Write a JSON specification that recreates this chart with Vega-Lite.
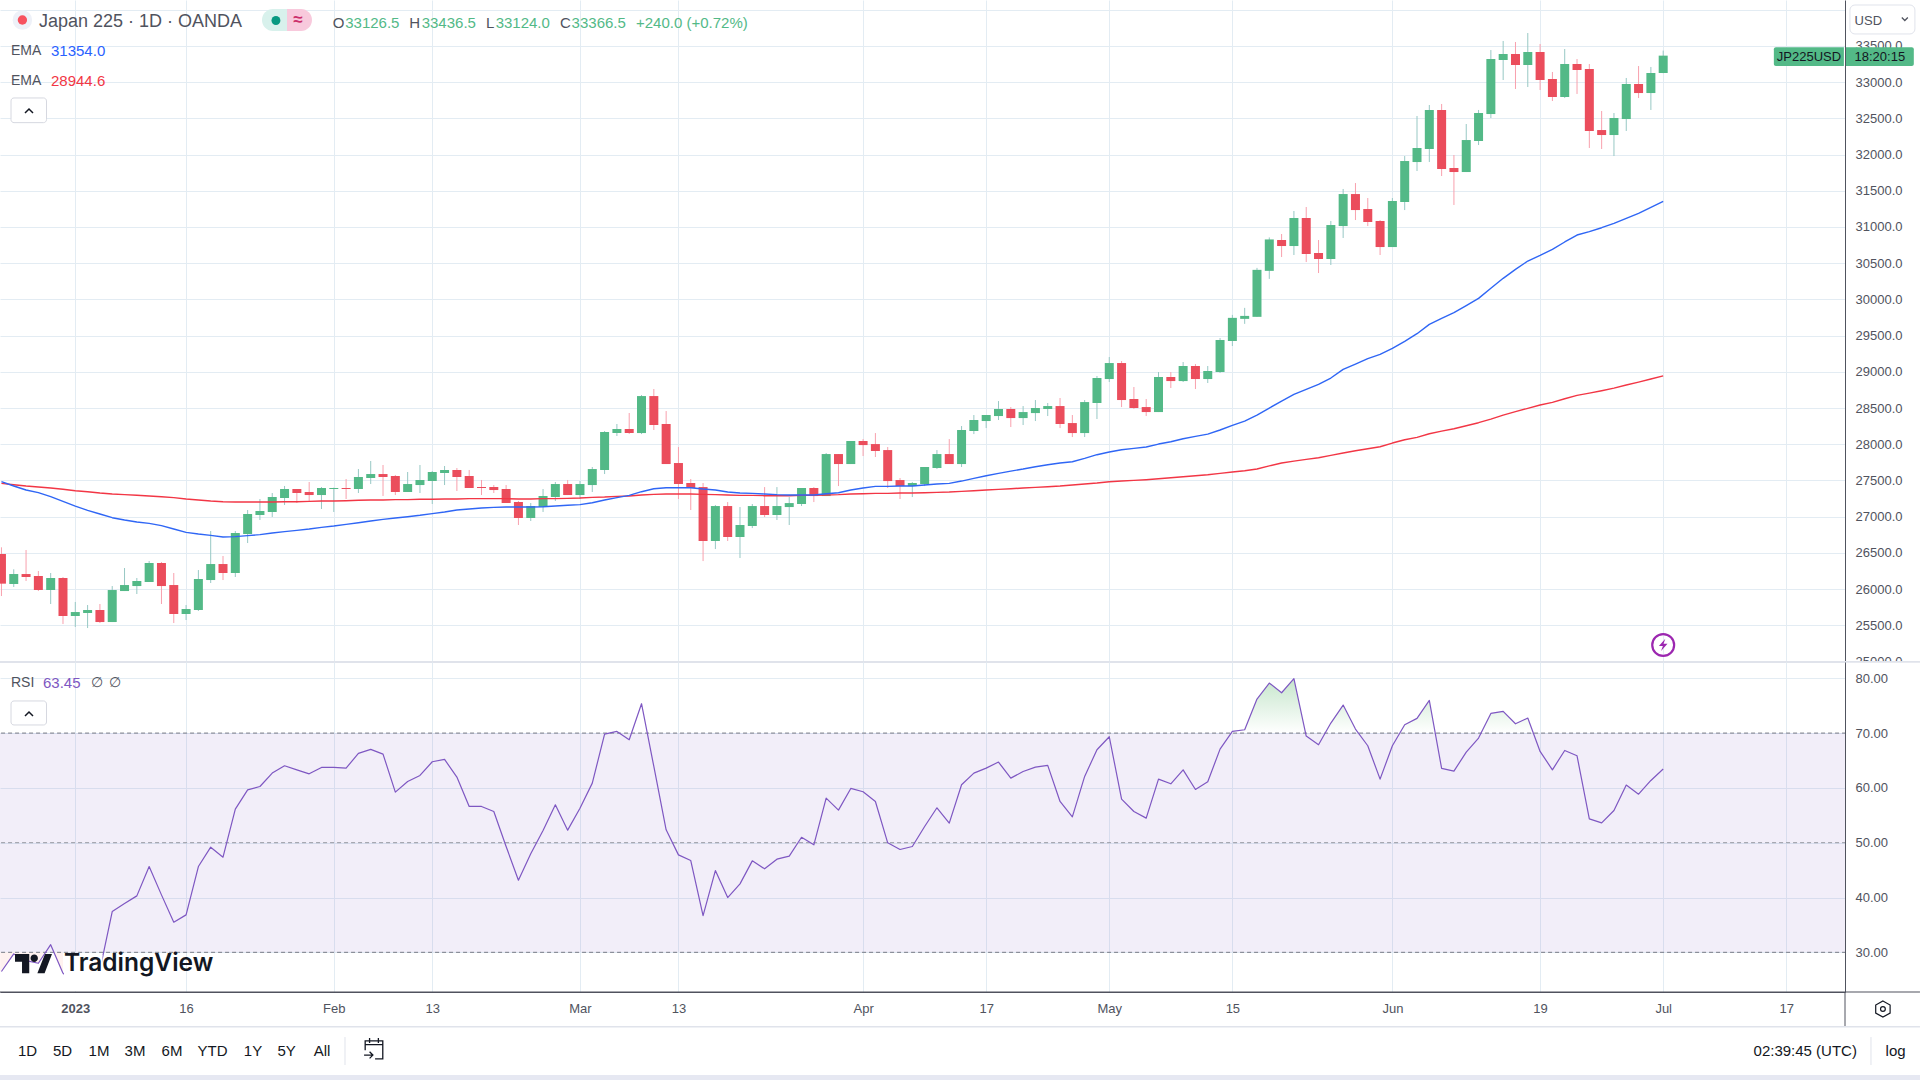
{"$schema":"https://vega.github.io/schema/vega-lite/v6.json","background":"#ffffff","padding":0,"autosize":{"type":"pad"},"spacing":0,"bounds":"flush","config":{"font":"Liberation Sans","view":{"stroke":null},"axis":{"gridColor":"#e3ecf3","gridWidth":1,"domainColor":"#50535e","domainWidth":1,"tickSize":0,"ticks":false,"labelColor":"#50535e","labelFontSize":13,"labelOverlap":false,"labelBound":false,"labelFlush":false}},"datasets":{"one":[{}],"bars":[
{"i":-6,"o":26484,"h":26576,"l":25903,"c":26074,"e1":27482,"e2":27459,"rsi":26.5},
{"i":-5,"o":26069,"h":26272,"l":26028,"c":26207,"e1":27423,"e2":27441,"rsi":29.7},
{"i":-4,"o":26207,"h":26539,"l":26111,"c":26166,"e1":27367,"e2":27423,"rsi":28.5},
{"i":-3,"o":26180,"h":26249,"l":25972,"c":25986,"e1":27331,"e2":27409,"rsi":28.0},
{"i":-2,"o":25986,"h":26221,"l":25793,"c":26152,"e1":27275,"e2":27395,"rsi":31.4},
{"i":-1,"o":26152,"h":26166,"l":25517,"c":25627,"e1":27211,"e2":27377,"rsi":26.2},
{"i":0,"o":25627,"h":25821,"l":25475,"c":25682,"e1":27146,"e2":27358,"rsi":24.0},
{"i":1,"o":25669,"h":25779,"l":25461,"c":25710,"e1":27087,"e2":27344,"rsi":23.8},
{"i":2,"o":25710,"h":25793,"l":25530,"c":25544,"e1":27036,"e2":27326,"rsi":26.8},
{"i":3,"o":25544,"h":26041,"l":25544,"c":25986,"e1":26985,"e2":27312,"rsi":37.44},
{"i":4,"o":25972,"h":26290,"l":25972,"c":26055,"e1":26953,"e2":27303,"rsi":38.9},
{"i":5,"o":26041,"h":26152,"l":25931,"c":26111,"e1":26925,"e2":27294,"rsi":40.3},
{"i":6,"o":26097,"h":26387,"l":26097,"c":26359,"e1":26907,"e2":27285,"rsi":45.65},
{"i":7,"o":26359,"h":26373,"l":25793,"c":26041,"e1":26875,"e2":27275,"rsi":40.48},
{"i":8,"o":26055,"h":26221,"l":25530,"c":25655,"e1":26829,"e2":27262,"rsi":35.49},
{"i":9,"o":25655,"h":25779,"l":25572,"c":25724,"e1":26783,"e2":27243,"rsi":36.83},
{"i":10,"o":25710,"h":26262,"l":25696,"c":26138,"e1":26760,"e2":27229,"rsi":45.65},
{"i":11,"o":26124,"h":26801,"l":26083,"c":26345,"e1":26741,"e2":27215,"rsi":49.18},
{"i":12,"o":26345,"h":26456,"l":26124,"c":26221,"e1":26718,"e2":27206,"rsi":47.36},
{"i":13,"o":26221,"h":26801,"l":26166,"c":26774,"e1":26723,"e2":27202,"rsi":56.12},
{"i":14,"o":26760,"h":27091,"l":26635,"c":27036,"e1":26737,"e2":27202,"rsi":59.65},
{"i":15,"o":27022,"h":27243,"l":26953,"c":27077,"e1":26751,"e2":27202,"rsi":60.26},
{"i":16,"o":27064,"h":27326,"l":26995,"c":27271,"e1":26774,"e2":27202,"rsi":62.7},
{"i":17,"o":27257,"h":27423,"l":27160,"c":27381,"e1":26792,"e2":27206,"rsi":64.04},
{"i":18,"o":27381,"h":27381,"l":27188,"c":27326,"e1":26810,"e2":27206,"rsi":63.3},
{"i":19,"o":27340,"h":27478,"l":27216,"c":27298,"e1":26829,"e2":27211,"rsi":62.57},
{"i":20,"o":27298,"h":27409,"l":27105,"c":27395,"e1":26852,"e2":27215,"rsi":63.73},
{"i":21,"o":27381,"h":27400,"l":27064,"c":27395,"e1":26870,"e2":27215,"rsi":63.73},
{"i":22,"o":27395,"h":27519,"l":27243,"c":27381,"e1":26893,"e2":27220,"rsi":63.61},
{"i":23,"o":27381,"h":27657,"l":27326,"c":27547,"e1":26916,"e2":27225,"rsi":66.29},
{"i":24,"o":27533,"h":27768,"l":27450,"c":27588,"e1":26939,"e2":27229,"rsi":67.02},
{"i":25,"o":27588,"h":27713,"l":27285,"c":27547,"e1":26962,"e2":27229,"rsi":66.17},
{"i":26,"o":27561,"h":27575,"l":27298,"c":27340,"e1":26981,"e2":27234,"rsi":59.23},
{"i":27,"o":27340,"h":27616,"l":27340,"c":27450,"e1":26999,"e2":27234,"rsi":61.17},
{"i":28,"o":27436,"h":27713,"l":27326,"c":27506,"e1":27018,"e2":27239,"rsi":62.27},
{"i":29,"o":27492,"h":27630,"l":27174,"c":27616,"e1":27041,"e2":27239,"rsi":64.77},
{"i":30,"o":27602,"h":27699,"l":27436,"c":27644,"e1":27064,"e2":27243,"rsi":65.19},
{"i":31,"o":27644,"h":27671,"l":27354,"c":27547,"e1":27091,"e2":27243,"rsi":61.97},
{"i":32,"o":27561,"h":27644,"l":27395,"c":27395,"e1":27105,"e2":27248,"rsi":56.61},
{"i":33,"o":27409,"h":27506,"l":27298,"c":27395,"e1":27119,"e2":27248,"rsi":56.61},
{"i":34,"o":27409,"h":27436,"l":27326,"c":27367,"e1":27128,"e2":27248,"rsi":55.7},
{"i":35,"o":27381,"h":27436,"l":27188,"c":27188,"e1":27133,"e2":27248,"rsi":49.31},
{"i":36,"o":27202,"h":27216,"l":26884,"c":26981,"e1":27133,"e2":27243,"rsi":43.16},
{"i":37,"o":26981,"h":27188,"l":26939,"c":27146,"e1":27133,"e2":27243,"rsi":47.97},
{"i":38,"o":27133,"h":27381,"l":27064,"c":27285,"e1":27137,"e2":27248,"rsi":52.23},
{"i":39,"o":27271,"h":27478,"l":27216,"c":27450,"e1":27146,"e2":27248,"rsi":56.91},
{"i":40,"o":27450,"h":27506,"l":27298,"c":27298,"e1":27156,"e2":27252,"rsi":52.29},
{"i":41,"o":27298,"h":27492,"l":27243,"c":27450,"e1":27165,"e2":27257,"rsi":56.3},
{"i":42,"o":27436,"h":27685,"l":27340,"c":27657,"e1":27192,"e2":27266,"rsi":60.87},
{"i":43,"o":27644,"h":28182,"l":27588,"c":28169,"e1":27229,"e2":27271,"rsi":69.82},
{"i":44,"o":28155,"h":28279,"l":28113,"c":28210,"e1":27262,"e2":27280,"rsi":70.3},
{"i":45,"o":28210,"h":28431,"l":28141,"c":28155,"e1":27294,"e2":27285,"rsi":68.78},
{"i":46,"o":28154,"h":28679,"l":28140,"c":28665,"e1":27344,"e2":27298,"rsi":75.36},
{"i":47,"o":28665,"h":28762,"l":28196,"c":28265,"e1":27385,"e2":27307,"rsi":63.91},
{"i":48,"o":28279,"h":28458,"l":27726,"c":27726,"e1":27399,"e2":27312,"rsi":52.35},
{"i":49,"o":27740,"h":27961,"l":27243,"c":27450,"e1":27399,"e2":27312,"rsi":47.78},
{"i":50,"o":27464,"h":27519,"l":27091,"c":27395,"e1":27399,"e2":27312,"rsi":46.75},
{"i":51,"o":27408,"h":27464,"l":26386,"c":26663,"e1":27381,"e2":27307,"rsi":36.71},
{"i":52,"o":26663,"h":27160,"l":26552,"c":27146,"e1":27367,"e2":27303,"rsi":44.92},
{"i":53,"o":27146,"h":27201,"l":26663,"c":26718,"e1":27339,"e2":27298,"rsi":39.99},
{"i":54,"o":26718,"h":27132,"l":26428,"c":26884,"e1":27326,"e2":27293,"rsi":42.49},
{"i":55,"o":26870,"h":27174,"l":26842,"c":27146,"e1":27321,"e2":27293,"rsi":46.69},
{"i":56,"o":27146,"h":27408,"l":26994,"c":27022,"e1":27312,"e2":27289,"rsi":45.23},
{"i":57,"o":27022,"h":27408,"l":26953,"c":27146,"e1":27303,"e2":27289,"rsi":46.99},
{"i":58,"o":27132,"h":27270,"l":26884,"c":27187,"e1":27298,"e2":27289,"rsi":47.54},
{"i":59,"o":27174,"h":27395,"l":27146,"c":27395,"e1":27298,"e2":27293,"rsi":50.99},
{"i":60,"o":27395,"h":27408,"l":27201,"c":27284,"e1":27298,"e2":27293,"rsi":49.61},
{"i":61,"o":27284,"h":27878,"l":27284,"c":27864,"e1":27316,"e2":27298,"rsi":58.13},
{"i":62,"o":27864,"h":27864,"l":27422,"c":27726,"e1":27330,"e2":27303,"rsi":55.94},
{"i":63,"o":27726,"h":28044,"l":27726,"c":28044,"e1":27367,"e2":27312,"rsi":59.9},
{"i":64,"o":28044,"h":28071,"l":27837,"c":27988,"e1":27395,"e2":27316,"rsi":59.29},
{"i":65,"o":28002,"h":28154,"l":27823,"c":27906,"e1":27418,"e2":27321,"rsi":57.52},
{"i":66,"o":27919,"h":27961,"l":27395,"c":27491,"e1":27418,"e2":27321,"rsi":49.98},
{"i":67,"o":27505,"h":27533,"l":27243,"c":27422,"e1":27422,"e2":27326,"rsi":48.76},
{"i":68,"o":27422,"h":27477,"l":27270,"c":27464,"e1":27422,"e2":27326,"rsi":49.31},
{"i":69,"o":27450,"h":27685,"l":27422,"c":27685,"e1":27436,"e2":27330,"rsi":52.96},
{"i":70,"o":27671,"h":27919,"l":27657,"c":27864,"e1":27450,"e2":27335,"rsi":56.37},
{"i":71,"o":27864,"h":28071,"l":27726,"c":27726,"e1":27459,"e2":27339,"rsi":53.57},
{"i":72,"o":27726,"h":28251,"l":27685,"c":28196,"e1":27491,"e2":27349,"rsi":60.57},
{"i":73,"o":28182,"h":28403,"l":28140,"c":28334,"e1":27528,"e2":27358,"rsi":62.7},
{"i":74,"o":28320,"h":28403,"l":28223,"c":28403,"e1":27565,"e2":27367,"rsi":63.61},
{"i":75,"o":28389,"h":28596,"l":28334,"c":28486,"e1":27597,"e2":27376,"rsi":64.71},
{"i":76,"o":28486,"h":28513,"l":28237,"c":28361,"e1":27629,"e2":27385,"rsi":61.78},
{"i":77,"o":28361,"h":28527,"l":28265,"c":28444,"e1":27657,"e2":27395,"rsi":63.0},
{"i":78,"o":28430,"h":28610,"l":28320,"c":28500,"e1":27689,"e2":27404,"rsi":63.79},
{"i":79,"o":28486,"h":28569,"l":28389,"c":28527,"e1":27717,"e2":27413,"rsi":64.1},
{"i":80,"o":28527,"h":28638,"l":28223,"c":28279,"e1":27740,"e2":27422,"rsi":57.52},
{"i":81,"o":28292,"h":28403,"l":28099,"c":28154,"e1":27758,"e2":27436,"rsi":54.72},
{"i":82,"o":28154,"h":28610,"l":28099,"c":28582,"e1":27804,"e2":27450,"rsi":62.09},
{"i":83,"o":28569,"h":28942,"l":28348,"c":28914,"e1":27855,"e2":27464,"rsi":66.96},
{"i":84,"o":28900,"h":29204,"l":28859,"c":29121,"e1":27892,"e2":27482,"rsi":69.33},
{"i":85,"o":29121,"h":29149,"l":28513,"c":28610,"e1":27924,"e2":27491,"rsi":57.95},
{"i":86,"o":28624,"h":28790,"l":28486,"c":28500,"e1":27942,"e2":27500,"rsi":55.7},
{"i":87,"o":28513,"h":28624,"l":28389,"c":28444,"e1":27961,"e2":27510,"rsi":54.48},
{"i":88,"o":28444,"h":28997,"l":28444,"c":28928,"e1":28002,"e2":27523,"rsi":61.6},
{"i":89,"o":28928,"h":28997,"l":28776,"c":28872,"e1":28034,"e2":27537,"rsi":60.75},
{"i":90,"o":28872,"h":29135,"l":28859,"c":29080,"e1":28076,"e2":27551,"rsi":63.3},
{"i":91,"o":29080,"h":29107,"l":28762,"c":28900,"e1":28108,"e2":27565,"rsi":59.71},
{"i":92,"o":28900,"h":29080,"l":28845,"c":29011,"e1":28140,"e2":27579,"rsi":61.11},
{"i":93,"o":28997,"h":29466,"l":28983,"c":29439,"e1":28196,"e2":27597,"rsi":67.08},
{"i":94,"o":29425,"h":29786,"l":29356,"c":29745,"e1":28260,"e2":27616,"rsi":70.3},
{"i":95,"o":29731,"h":29883,"l":29662,"c":29772,"e1":28320,"e2":27634,"rsi":70.61},
{"i":96,"o":29759,"h":30435,"l":29759,"c":30408,"e1":28403,"e2":27657,"rsi":76.21},
{"i":97,"o":30394,"h":30856,"l":30283,"c":30828,"e1":28499,"e2":27700,"rsi":79.13},
{"i":98,"o":30820,"h":30903,"l":30585,"c":30737,"e1":28596,"e2":27740,"rsi":77.36},
{"i":99,"o":30737,"h":31221,"l":30613,"c":31124,"e1":28688,"e2":27767,"rsi":79.92},
{"i":100,"o":31124,"h":31276,"l":30516,"c":30627,"e1":28757,"e2":27790,"rsi":69.45},
{"i":101,"o":30641,"h":30820,"l":30364,"c":30558,"e1":28826,"e2":27813,"rsi":67.87},
{"i":102,"o":30558,"h":31083,"l":30475,"c":31027,"e1":28914,"e2":27845,"rsi":71.83},
{"i":103,"o":31013,"h":31525,"l":30848,"c":31455,"e1":29033,"e2":27878,"rsi":75.11},
{"i":104,"o":31455,"h":31607,"l":31096,"c":31234,"e1":29107,"e2":27910,"rsi":70.73},
{"i":105,"o":31248,"h":31400,"l":31013,"c":31069,"e1":29181,"e2":27937,"rsi":67.69},
{"i":106,"o":31083,"h":31096,"l":30613,"c":30723,"e1":29240,"e2":27965,"rsi":61.6},
{"i":107,"o":30723,"h":31400,"l":30723,"c":31359,"e1":29323,"e2":28016,"rsi":67.69},
{"i":108,"o":31345,"h":31980,"l":31234,"c":31911,"e1":29420,"e2":28062,"rsi":71.52},
{"i":109,"o":31897,"h":32533,"l":31773,"c":32091,"e1":29526,"e2":28094,"rsi":72.68},
{"i":110,"o":32077,"h":32685,"l":31897,"c":32616,"e1":29655,"e2":28145,"rsi":75.96},
{"i":111,"o":32616,"h":32699,"l":31704,"c":31801,"e1":29738,"e2":28181,"rsi":63.55},
{"i":112,"o":31815,"h":31994,"l":31304,"c":31759,"e1":29816,"e2":28214,"rsi":63.06},
{"i":113,"o":31759,"h":32422,"l":31759,"c":32201,"e1":29913,"e2":28255,"rsi":66.53},
{"i":114,"o":32188,"h":32616,"l":32132,"c":32574,"e1":30014,"e2":28297,"rsi":69.09},
{"i":115,"o":32560,"h":33444,"l":32505,"c":33320,"e1":30155,"e2":28347,"rsi":73.59},
{"i":116,"o":33306,"h":33569,"l":33030,"c":33389,"e1":30291,"e2":28402,"rsi":73.96},
{"i":117,"o":33389,"h":33555,"l":32906,"c":33237,"e1":30415,"e2":28449,"rsi":71.7},
{"i":118,"o":33237,"h":33679,"l":32933,"c":33417,"e1":30530,"e2":28495,"rsi":72.74},
{"i":119,"o":33417,"h":33527,"l":32892,"c":33030,"e1":30608,"e2":28541,"rsi":66.65},
{"i":120,"o":33044,"h":33141,"l":32740,"c":32795,"e1":30691,"e2":28577,"rsi":63.3},
{"i":121,"o":32795,"h":33458,"l":32781,"c":33251,"e1":30793,"e2":28628,"rsi":66.83},
{"i":122,"o":33251,"h":33320,"l":32837,"c":33168,"e1":30889,"e2":28674,"rsi":65.86},
{"i":123,"o":33182,"h":33251,"l":32091,"c":32326,"e1":30935,"e2":28706,"rsi":54.36},
{"i":124,"o":32339,"h":32602,"l":32077,"c":32270,"e1":30990,"e2":28739,"rsi":53.63},
{"i":125,"o":32270,"h":32574,"l":31980,"c":32505,"e1":31050,"e2":28775,"rsi":55.88},
{"i":126,"o":32491,"h":33058,"l":32326,"c":32975,"e1":31119,"e2":28817,"rsi":60.51},
{"i":127,"o":32975,"h":33223,"l":32781,"c":32850,"e1":31188,"e2":28858,"rsi":58.86},
{"i":128,"o":32850,"h":33210,"l":32616,"c":33127,"e1":31271,"e2":28900,"rsi":61.36},
{"i":129,"o":33126.5,"h":33436.5,"l":33124,"c":33366.5,"e1":31354,"e2":28944.6,"rsi":63.45}
],"over":[{"i":93.9,"v":70},{"i":94,"v":70.3},{"i":95,"v":70.61},{"i":96,"v":76.21},{"i":97,"v":79.13},{"i":98,"v":77.36},{"i":99,"v":79.92},{"i":99.95,"v":70},{"i":101.54,"v":70},{"i":102,"v":71.83},{"i":103,"v":75.11},{"i":104,"v":70.73},{"i":104.23,"v":70},{"i":107.6,"v":70},{"i":108,"v":71.52},{"i":109,"v":72.68},{"i":110,"v":75.96},{"i":110.48,"v":70},{"i":114.2,"v":70},{"i":115,"v":73.59},{"i":116,"v":73.96},{"i":117,"v":71.7},{"i":118,"v":72.74},{"i":118.45,"v":70}],"under":[{"i":-6.1,"v":26.4},{"i":-5,"v":29.7},{"i":-4,"v":28.5},{"i":-3,"v":28},{"i":-2.5,"v":30},{"i":-1.7,"v":30},{"i":-1,"v":26.2}]},"vconcat":[
{"width":1845,"height":662,"layer":[
{"data":{"name":"bars"},"mark":{"type":"rule","strokeWidth":1},"encoding":{"x":{"field":"i","type":"quantitative","scale":{"domain":[-6.117,143.77],"nice":false,"zero":false,"padding":0},"axis":{"title":null,"orient":"bottom","values":[0,9,21,29,41,49,64,74,84,94,107,119,129,139],"labels":false,"domain":false,"grid":true}},"y":{"field":"l","type":"quantitative","scale":{"domain":[24992,34135],"nice":false,"zero":false},"axis":{"title":null,"orient":"right","tickCount":30,"values":[25000,25500,26000,26500,27000,27500,28000,28500,29000,29500,30000,30500,31000,31500,32000,32500,33000,33500,34000],"labelExpr":"datum.value===34000?'':format(datum.value,'.1f')","labelPadding":10,"grid":true,"domain":true}},"y2":{"field":"h"},"color":{"condition":{"test":"datum.c>=datum.o","value":"#97c8c4"},"value":"#f8a0ad"}}},
{"data":{"name":"bars"},"transform":[{"filter":"datum.i>-6"}],"mark":{"type":"bar","width":9,"orient":"vertical"},"encoding":{"x":{"field":"i","type":"quantitative"},"y":{"field":"o","type":"quantitative"},"y2":{"field":"c"},"color":{"condition":{"test":"datum.c>=datum.o","value":"#53b987"},"value":"#eb4d5c"}}},
{"data":{"name":"bars"},"transform":[{"filter":"datum.i===-6"}],"mark":{"type":"rect","fill":"#eb4d5c"},"encoding":{"x":{"datum":-6.117,"type":"quantitative"},"x2":{"datum":-5.634},"y":{"field":"o","type":"quantitative"},"y2":{"field":"c"}}},
{"data":{"name":"bars"},"mark":{"type":"line","color":"#f23645","strokeWidth":1.4,"strokeJoin":"round"},"encoding":{"x":{"field":"i","type":"quantitative"},"y":{"field":"e2","type":"quantitative"}}},
{"data":{"name":"bars"},"mark":{"type":"line","color":"#2f66f5","strokeWidth":1.4,"strokeJoin":"round"},"encoding":{"x":{"field":"i","type":"quantitative"},"y":{"field":"e1","type":"quantitative"}}},
{"data":{"name":"one"},"mark":{"type":"rect","fill":"#e0e3eb"},"encoding":{"x":{"datum":-6.117,"type":"quantitative"},"x2":{"datum":149.86},"y":{"datum":25006,"type":"quantitative"},"y2":{"datum":24978}}},
{"data":{"name":"one"},"mark":{"type":"point","shape":"circle","filled":true,"fill":"#eef1f8","opacity":1,"size":380},"encoding":{"x":{"datum":-4.297,"type":"quantitative"},"y":{"datum":33859,"type":"quantitative"}}},
{"data":{"name":"one"},"mark":{"type":"point","shape":"circle","filled":true,"fill":"#f7525f","opacity":1,"size":88},"encoding":{"x":{"datum":-4.297,"type":"quantitative"},"y":{"datum":33859,"type":"quantitative"}}},
{"data":{"name":"one"},"mark":{"type":"text","align":"left","baseline":"middle","fontSize":18,"color":"#50535e"},"encoding":{"x":{"datum":-2.949,"type":"quantitative"},"y":{"datum":33836,"type":"quantitative"},"text":{"value":"Japan 225 · 1D · OANDA"}}},
{"data":{"name":"one"},"mark":{"type":"rect","fill":"#d8f1ec","cornerRadiusTopLeft":11,"cornerRadiusBottomLeft":11},"encoding":{"x":{"datum":15.165,"type":"quantitative"},"x2":{"datum":17.2},"y":{"datum":34011,"type":"quantitative"},"y2":{"datum":33707}}},
{"data":{"name":"one"},"mark":{"type":"rect","fill":"#f8c9dc","cornerRadiusTopRight":11,"cornerRadiusBottomRight":11},"encoding":{"x":{"datum":17.2,"type":"quantitative"},"x2":{"datum":19.23},"y":{"datum":34011,"type":"quantitative"},"y2":{"datum":33707}}},
{"data":{"name":"one"},"mark":{"type":"point","shape":"circle","filled":true,"fill":"#089981","opacity":1,"size":79},"encoding":{"x":{"datum":16.3,"type":"quantitative"},"y":{"datum":33852,"type":"quantitative"}}},
{"data":{"name":"one"},"mark":{"type":"text","align":"center","baseline":"middle","fontSize":17,"fontWeight":"bold","color":"#cc2f6b"},"encoding":{"x":{"datum":18.09,"type":"quantitative"},"y":{"datum":33852,"type":"quantitative"},"text":{"value":"≈"}}},
{"data":{"name":"one"},"mark":{"type":"text","align":"left","baseline":"middle","fontSize":15,"color":"#50535e"},"encoding":{"x":{"datum":20.91,"type":"quantitative"},"y":{"datum":33822,"type":"quantitative"},"text":{"value":"O"}}},
{"data":{"name":"one"},"mark":{"type":"text","align":"left","baseline":"middle","fontSize":15,"color":"#53b987"},"encoding":{"x":{"datum":21.93,"type":"quantitative"},"y":{"datum":33822,"type":"quantitative"},"text":{"value":"33126.5"}}},
{"data":{"name":"one"},"mark":{"type":"text","align":"left","baseline":"middle","fontSize":15,"color":"#50535e"},"encoding":{"x":{"datum":27.13,"type":"quantitative"},"y":{"datum":33822,"type":"quantitative"},"text":{"value":"H"}}},
{"data":{"name":"one"},"mark":{"type":"text","align":"left","baseline":"middle","fontSize":15,"color":"#53b987"},"encoding":{"x":{"datum":28.14,"type":"quantitative"},"y":{"datum":33822,"type":"quantitative"},"text":{"value":"33436.5"}}},
{"data":{"name":"one"},"mark":{"type":"text","align":"left","baseline":"middle","fontSize":15,"color":"#50535e"},"encoding":{"x":{"datum":33.36,"type":"quantitative"},"y":{"datum":33822,"type":"quantitative"},"text":{"value":"L"}}},
{"data":{"name":"one"},"mark":{"type":"text","align":"left","baseline":"middle","fontSize":15,"color":"#53b987"},"encoding":{"x":{"datum":34.15,"type":"quantitative"},"y":{"datum":33822,"type":"quantitative"},"text":{"value":"33124.0"}}},
{"data":{"name":"one"},"mark":{"type":"text","align":"left","baseline":"middle","fontSize":15,"color":"#50535e"},"encoding":{"x":{"datum":39.37,"type":"quantitative"},"y":{"datum":33822,"type":"quantitative"},"text":{"value":"C"}}},
{"data":{"name":"one"},"mark":{"type":"text","align":"left","baseline":"middle","fontSize":15,"color":"#53b987"},"encoding":{"x":{"datum":40.32,"type":"quantitative"},"y":{"datum":33822,"type":"quantitative"},"text":{"value":"33366.5"}}},
{"data":{"name":"one"},"mark":{"type":"text","align":"left","baseline":"middle","fontSize":15,"color":"#53b987"},"encoding":{"x":{"datum":45.55,"type":"quantitative"},"y":{"datum":33822,"type":"quantitative"},"text":{"value":"+240.0 (+0.72%)"}}},
{"data":{"name":"one"},"mark":{"type":"text","align":"left","baseline":"middle","fontSize":14,"color":"#50535e"},"encoding":{"x":{"datum":-5.223,"type":"quantitative"},"y":{"datum":33435,"type":"quantitative"},"text":{"value":"EMA"}}},
{"data":{"name":"one"},"mark":{"type":"text","align":"left","baseline":"middle","fontSize":15,"color":"#2962ff"},"encoding":{"x":{"datum":-1.974,"type":"quantitative"},"y":{"datum":33435,"type":"quantitative"},"text":{"value":"31354.0"}}},
{"data":{"name":"one"},"mark":{"type":"text","align":"left","baseline":"middle","fontSize":14,"color":"#50535e"},"encoding":{"x":{"datum":-5.223,"type":"quantitative"},"y":{"datum":33021,"type":"quantitative"},"text":{"value":"EMA"}}},
{"data":{"name":"one"},"mark":{"type":"text","align":"left","baseline":"middle","fontSize":15,"color":"#f23645"},"encoding":{"x":{"datum":-1.974,"type":"quantitative"},"y":{"datum":33021,"type":"quantitative"},"text":{"value":"28944.6"}}},
{"data":{"name":"one"},"mark":{"type":"rect","fill":"#ffffff","stroke":"#d6d8e0","strokeWidth":1,"cornerRadius":3},"encoding":{"x":{"datum":-5.223,"type":"quantitative"},"x2":{"datum":-2.34},"y":{"datum":32782,"type":"quantitative"},"y2":{"datum":32441}}},
{"data":{"name":"one"},"mark":{"type":"point","shape":"M-1 .5L0 -.5L1 .5","filled":false,"stroke":"#131722","strokeWidth":1.5,"opacity":1,"size":64},"encoding":{"x":{"datum":-3.761,"type":"quantitative"},"y":{"datum":32602,"type":"quantitative"}}},
{"data":{"name":"one"},"mark":{"type":"rect","fill":"#ffffff","stroke":"#e0e3eb","strokeWidth":1,"cornerRadius":5},"encoding":{"x":{"datum":144.17,"type":"quantitative"},"x2":{"datum":149.45},"y":{"datum":34066,"type":"quantitative"},"y2":{"datum":33666}}},
{"data":{"name":"one"},"mark":{"type":"text","align":"left","baseline":"middle","fontSize":13,"color":"#50535e"},"encoding":{"x":{"datum":144.55,"type":"quantitative"},"y":{"datum":33845,"type":"quantitative"},"text":{"value":"USD"}}},
{"data":{"name":"one"},"mark":{"type":"point","shape":"M-1 -.5L0 .5L1 -.5","filled":false,"stroke":"#50535e","strokeWidth":1.3,"opacity":1,"size":36},"encoding":{"x":{"datum":148.63,"type":"quantitative"},"y":{"datum":33873,"type":"quantitative"}}},
{"data":{"name":"one"},"mark":{"type":"rect","fill":"#53b987","cornerRadiusTopLeft":2,"cornerRadiusBottomLeft":2},"encoding":{"x":{"datum":137.99,"type":"quantitative"},"x2":{"datum":143.68},"y":{"datum":33482,"type":"quantitative"},"y2":{"datum":33224}}},
{"data":{"name":"one"},"mark":{"type":"rect","fill":"#53b987","cornerRadiusTopRight":2,"cornerRadiusBottomRight":2},"encoding":{"x":{"datum":143.85,"type":"quantitative"},"x2":{"datum":149.36},"y":{"datum":33482,"type":"quantitative"},"y2":{"datum":33224}}},
{"data":{"name":"one"},"mark":{"type":"text","align":"center","baseline":"middle","fontSize":13,"color":"#131722"},"encoding":{"x":{"datum":140.84,"type":"quantitative"},"y":{"datum":33348,"type":"quantitative"},"text":{"value":"JP225USD"}}},
{"data":{"name":"one"},"mark":{"type":"text","align":"center","baseline":"middle","fontSize":13,"color":"#131722"},"encoding":{"x":{"datum":146.6,"type":"quantitative"},"y":{"datum":33348,"type":"quantitative"},"text":{"value":"18:20:15"}}},
{"data":{"name":"one"},"mark":{"type":"point","shape":"circle","filled":false,"stroke":"#9c27b0","strokeWidth":2.2,"opacity":1,"size":480},"encoding":{"x":{"datum":129,"type":"quantitative"},"y":{"datum":25227,"type":"quantitative"}}},
{"data":{"name":"one"},"mark":{"type":"point","shape":"M.35 -1L-.7 .15H-.05L-.35 1L.7 -.2H.05Z","filled":true,"fill":"#9c27b0","opacity":1,"size":150},"encoding":{"x":{"datum":129,"type":"quantitative"},"y":{"datum":25227,"type":"quantitative"}}}
]},
{"width":1845,"height":330,"layer":[
{"data":{"name":"one"},"mark":{"type":"rect","fill":"#7e57c2","opacity":0.1},"encoding":{"x":{"datum":-6.117,"type":"quantitative","scale":{"domain":[-6.117,143.77],"nice":false,"zero":false},"axis":{"title":null,"orient":"bottom","values":[0,9,21,29,41,49,64,74,84,94,107,119,129,139],"grid":true,"domain":true,"labelPadding":10,"labelExpr":"{'0':'2023','9':'16','21':'Feb','29':'13','41':'Mar','49':'13','64':'Apr','74':'17','84':'May','94':'15','107':'Jun','119':'19','129':'Jul','139':'17'}[''+datum.value]","labelFontWeight":{"condition":{"test":"datum.value===0","value":"bold"},"value":"normal"}}},"x2":{"datum":143.77},"y":{"datum":30,"type":"quantitative","scale":{"domain":[22.76,82.97],"nice":false,"zero":false},"axis":{"title":null,"orient":"right","values":[30,40,50,60,70,80],"format":".2f","labelPadding":10,"grid":true,"domain":true}},"y2":{"datum":70}}},
{"data":{"name":"over"},"mark":{"type":"area","fill":{"x1":0,"y1":1,"x2":0,"y2":0,"gradient":"linear","stops":[{"offset":0,"color":"#ffffff"},{"offset":1,"color":"#c6e6cc"}]}},"encoding":{"x":{"field":"i","type":"quantitative"},"y":{"field":"v","type":"quantitative"},"y2":{"datum":70}}},
{"data":{"name":"under"},"mark":{"type":"area","fill":"#fff2f0"},"encoding":{"x":{"field":"i","type":"quantitative"},"y":{"field":"v","type":"quantitative"},"y2":{"datum":30}}},
{"data":{"name":"one"},"mark":{"type":"rule","color":"#787b86","strokeWidth":1,"strokeDash":[4,3]},"encoding":{"y":{"datum":70,"type":"quantitative"},"x":{"datum":-6.03,"type":"quantitative"},"x2":{"datum":143.77}}},
{"data":{"name":"one"},"mark":{"type":"rule","color":"#9598a1","strokeWidth":1,"strokeDash":[4,3]},"encoding":{"y":{"datum":50,"type":"quantitative"},"x":{"datum":-6.03,"type":"quantitative"},"x2":{"datum":143.77}}},
{"data":{"name":"one"},"mark":{"type":"rule","color":"#787b86","strokeWidth":1,"strokeDash":[4,3]},"encoding":{"y":{"datum":30,"type":"quantitative"},"x":{"datum":-6.03,"type":"quantitative"},"x2":{"datum":143.77}}},
{"data":{"name":"bars"},"mark":{"type":"line","color":"#7e57c2","strokeWidth":1.2,"strokeJoin":"round","clip":true},"encoding":{"x":{"field":"i","type":"quantitative"},"y":{"field":"rsi","type":"quantitative"}}},
{"data":{"name":"one"},"mark":{"type":"rect","fill":"#ffffff"},"encoding":{"x":{"datum":-0.918,"type":"quantitative"},"x2":{"datum":2.21},"y":{"datum":29.5,"type":"quantitative"},"y2":{"datum":22.94}}},
{"data":{"name":"one"},"mark":{"type":"rect","fill":"#50535e"},"encoding":{"x":{"datum":-6.117,"type":"quantitative"},"x2":{"datum":149.86},"y":{"datum":22.85,"type":"quantitative"},"y2":{"datum":22.67}}},
{"data":{"name":"one"},"mark":{"type":"rule","color":"#50535e","strokeWidth":1},"encoding":{"x":{"datum":143.77,"type":"quantitative"},"y":{"datum":22.76,"type":"quantitative"},"y2":{"datum":16.42}}},
{"data":{"name":"one"},"mark":{"type":"rect","fill":"#e0e3eb"},"encoding":{"x":{"datum":-6.117,"type":"quantitative"},"x2":{"datum":149.86},"y":{"datum":16.56,"type":"quantitative"},"y2":{"datum":16.28}}},
{"data":{"name":"one"},"mark":{"type":"rect","fill":"#ffffff"},"encoding":{"x":{"datum":143.85,"type":"quantitative"},"x2":{"datum":149.86},"y":{"datum":82.83,"type":"quantitative"},"y2":{"datum":81.52}}},
{"data":{"name":"one"},"mark":{"type":"rect","fill":"#e6e8f2"},"encoding":{"x":{"datum":-6.117,"type":"quantitative"},"x2":{"datum":149.86},"y":{"datum":7.61,"type":"quantitative"},"y2":{"datum":6.7}}},
{"data":{"name":"one"},"mark":{"type":"text","align":"left","baseline":"middle","fontSize":14,"color":"#50535e"},"encoding":{"x":{"datum":-5.223,"type":"quantitative"},"y":{"datum":79.2,"type":"quantitative"},"text":{"value":"RSI"}}},
{"data":{"name":"one"},"mark":{"type":"text","align":"left","baseline":"middle","fontSize":15,"color":"#7e57c2"},"encoding":{"x":{"datum":-2.624,"type":"quantitative"},"y":{"datum":79.2,"type":"quantitative"},"text":{"value":"63.45"}}},
{"data":{"name":"one"},"mark":{"type":"text","align":"left","baseline":"middle","fontSize":14,"color":"#50535e"},"encoding":{"x":{"datum":1.243,"type":"quantitative"},"y":{"datum":79.2,"type":"quantitative"},"text":{"value":"∅"}}},
{"data":{"name":"one"},"mark":{"type":"text","align":"left","baseline":"middle","fontSize":14,"color":"#50535e"},"encoding":{"x":{"datum":2.738,"type":"quantitative"},"y":{"datum":79.2,"type":"quantitative"},"text":{"value":"∅"}}},
{"data":{"name":"one"},"mark":{"type":"rect","fill":"#ffffff","stroke":"#d6d8e0","strokeWidth":1,"cornerRadius":3},"encoding":{"x":{"datum":-5.223,"type":"quantitative"},"x2":{"datum":-2.34},"y":{"datum":75.86,"type":"quantitative"},"y2":{"datum":71.48}}},
{"data":{"name":"one"},"mark":{"type":"point","shape":"M-1 .5L0 -.5L1 .5","filled":false,"stroke":"#131722","strokeWidth":1.5,"opacity":1,"size":64},"encoding":{"x":{"datum":-3.761,"type":"quantitative"},"y":{"datum":73.49,"type":"quantitative"}}},
{"data":{"name":"one"},"mark":{"type":"point","shape":"M-1 -.51H-.23V.53H-.62V-.1H-1Z M-.16 -.28A.2 .2 0 1 0 .24 -.28A.2 .2 0 1 0 -.16 -.28Z M.21 .53L.62 -.51H1L.6 .53Z","filled":true,"fill":"#131722","opacity":1,"size":1369},"encoding":{"x":{"datum":-3.396,"type":"quantitative"},"y":{"datum":27.96,"type":"quantitative"}}},
{"data":{"name":"one"},"mark":{"type":"text","align":"left","baseline":"middle","font":"Inter","fontWeight":600,"fontSize":24.5,"color":"#131722"},"encoding":{"x":{"datum":-0.92,"type":"quantitative"},"y":{"datum":27.87,"type":"quantitative"},"text":{"value":"TradingView"}}},
{"data":{"name":"one"},"mark":{"type":"text","align":"center","baseline":"middle","fontSize":15,"color":"#131722"},"encoding":{"x":{"datum":-3.883,"type":"quantitative"},"y":{"datum":12.04,"type":"quantitative"},"text":{"value":"1D"}}},
{"data":{"name":"one"},"mark":{"type":"text","align":"center","baseline":"middle","fontSize":15,"color":"#131722"},"encoding":{"x":{"datum":-1.04,"type":"quantitative"},"y":{"datum":12.04,"type":"quantitative"},"text":{"value":"5D"}}},
{"data":{"name":"one"},"mark":{"type":"text","align":"center","baseline":"middle","fontSize":15,"color":"#131722"},"encoding":{"x":{"datum":1.925,"type":"quantitative"},"y":{"datum":12.04,"type":"quantitative"},"text":{"value":"1M"}}},
{"data":{"name":"one"},"mark":{"type":"text","align":"center","baseline":"middle","fontSize":15,"color":"#131722"},"encoding":{"x":{"datum":4.85,"type":"quantitative"},"y":{"datum":12.04,"type":"quantitative"},"text":{"value":"3M"}}},
{"data":{"name":"one"},"mark":{"type":"text","align":"center","baseline":"middle","fontSize":15,"color":"#131722"},"encoding":{"x":{"datum":7.855,"type":"quantitative"},"y":{"datum":12.04,"type":"quantitative"},"text":{"value":"6M"}}},
{"data":{"name":"one"},"mark":{"type":"text","align":"center","baseline":"middle","fontSize":15,"color":"#131722"},"encoding":{"x":{"datum":11.145,"type":"quantitative"},"y":{"datum":12.04,"type":"quantitative"},"text":{"value":"YTD"}}},
{"data":{"name":"one"},"mark":{"type":"text","align":"center","baseline":"middle","fontSize":15,"color":"#131722"},"encoding":{"x":{"datum":14.435,"type":"quantitative"},"y":{"datum":12.04,"type":"quantitative"},"text":{"value":"1Y"}}},
{"data":{"name":"one"},"mark":{"type":"text","align":"center","baseline":"middle","fontSize":15,"color":"#131722"},"encoding":{"x":{"datum":17.165,"type":"quantitative"},"y":{"datum":12.04,"type":"quantitative"},"text":{"value":"5Y"}}},
{"data":{"name":"one"},"mark":{"type":"text","align":"center","baseline":"middle","fontSize":15,"color":"#131722"},"encoding":{"x":{"datum":20.04,"type":"quantitative"},"y":{"datum":12.04,"type":"quantitative"},"text":{"value":"All"}}},
{"data":{"name":"one"},"mark":{"type":"rule","color":"#e0e3eb","strokeWidth":1},"encoding":{"x":{"datum":21.91,"type":"quantitative"},"y":{"datum":14.54,"type":"quantitative"},"y2":{"datum":9.43}}},
{"data":{"name":"one"},"mark":{"type":"point","shape":"M-.8 -.4V-.75H.8V.9H.1M-.8 -.4H.8M-.8 -.4V.1M-.4 -1V-.55M.4 -1V-.55M-.9 .55H-.1M-.4 .25L-.1 .55L-.4 .85","filled":false,"stroke":"#131722","strokeWidth":1.3,"opacity":1,"size":484},"encoding":{"x":{"datum":24.265,"type":"quantitative"},"y":{"datum":12.35,"type":"quantitative"}}},
{"data":{"name":"one"},"mark":{"type":"text","align":"right","baseline":"middle","fontSize":15,"color":"#131722"},"encoding":{"x":{"datum":144.74,"type":"quantitative"},"y":{"datum":12.04,"type":"quantitative"},"text":{"value":"02:39:45 (UTC)"}}},
{"data":{"name":"one"},"mark":{"type":"rule","color":"#e0e3eb","strokeWidth":1},"encoding":{"x":{"datum":145.88,"type":"quantitative"},"y":{"datum":14.54,"type":"quantitative"},"y2":{"datum":9.43}}},
{"data":{"name":"one"},"mark":{"type":"text","align":"center","baseline":"middle","fontSize":15,"color":"#131722"},"encoding":{"x":{"datum":147.88,"type":"quantitative"},"y":{"datum":12.04,"type":"quantitative"},"text":{"value":"log"}}},
{"data":{"name":"one"},"mark":{"type":"point","shape":"M0 -1L.9 -.5V.5L0 1L-.9 .5V-.5Z M.3 0A.3 .3 0 1 1 -.3 0A.3 .3 0 1 1 .3 0Z","filled":false,"stroke":"#131722","strokeWidth":1.2,"opacity":1,"size":256},"encoding":{"x":{"datum":146.85,"type":"quantitative"},"y":{"datum":19.65,"type":"quantitative"}}}
]}
]}
